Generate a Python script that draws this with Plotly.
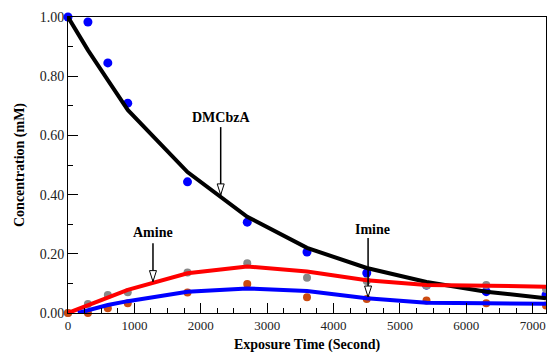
import plotly.graph_objects as go

# Data
t_data = [0, 300, 600, 900, 1800, 2700, 3600, 4500, 5400, 6300, 7200]
dmcbza_obs = [1.00, 0.983, 0.845, 0.709, 0.443, 0.307, 0.206, 0.135, 0.094, 0.072, 0.061]
amine_obs = [0.00, 0.030, 0.061, 0.070, 0.137, 0.168, 0.119, 0.108, 0.093, 0.095, 0.081]
imine_obs = [0.00, 0.000, 0.016, 0.033, 0.069, 0.098, 0.053, 0.047, 0.042, 0.033, 0.025]

t_model = [0, 300, 600, 900, 1800, 2700, 3600, 4500, 5400, 6300, 7200]
dmcbza_fit = [1.00, 0.888, 0.787, 0.686, 0.476, 0.325, 0.220, 0.152, 0.105, 0.072, 0.050]
amine_fit = [0.00, 0.027, 0.053, 0.078, 0.134, 0.157, 0.140, 0.111, 0.095, 0.091, 0.089]
t_imine_fit = [150, 300, 600, 900, 1800, 2700, 3600, 4500, 5400, 6300, 7200]
imine_fit = [0.00, 0.010, 0.027, 0.040, 0.072, 0.083, 0.074, 0.050, 0.035, 0.033, 0.031]

# Labels with arrows
labels = ["DMCbzA", "Amine", "Imine"]
label_x = [2300, 1280, 4520]
label_text_x = [2300, 1280, 4580]
label_y = [0.662, 0.272, 0.282]
arrow_tail = [0.628, 0.236, 0.253]
arrow_tip = [0.399, 0.106, 0.054]

font_family = "Liberation Serif, Times New Roman, serif"

fig = go.Figure()
# markers first
fig.add_trace(go.Scatter(x=t_data, y=dmcbza_obs, mode="markers",
                         marker=dict(color="#0000ff", size=9), showlegend=False, cliponaxis=False))
fig.add_trace(go.Scatter(x=t_data, y=amine_obs, mode="markers",
                         marker=dict(color="#888888", size=8), showlegend=False, cliponaxis=False))
fig.add_trace(go.Scatter(x=t_data, y=imine_obs, mode="markers",
                         marker=dict(color="#cc4a10", size=8), showlegend=False, cliponaxis=False))
# model lines
fig.add_trace(go.Scatter(x=t_model, y=dmcbza_fit, mode="lines",
                         line=dict(color="#000000", width=4), showlegend=False))
fig.add_trace(go.Scatter(x=t_model, y=amine_fit, mode="lines",
                         line=dict(color="#ff0000", width=4), showlegend=False))
fig.add_trace(go.Scatter(x=t_imine_fit, y=imine_fit, mode="lines",
                         line=dict(color="#0000ff", width=4), showlegend=False))

for txt, ax_, tx, ly, ty0, ty1 in zip(labels, label_x, label_text_x, label_y, arrow_tail, arrow_tip):
    fig.add_annotation(x=tx, y=ly, text="<b>%s</b>" % txt, showarrow=False,
                       font=dict(family=font_family, size=14, color="black"),
                       xanchor="center", yanchor="middle")
    fig.add_shape(type="line", x0=ax_, x1=ax_, y0=ty0, y1=ty1,
                  line=dict(color="black", width=1.5))
    fig.add_shape(type="path", xref="x", yref="y",
                  xsizemode="pixel", ysizemode="pixel",
                  xanchor=ax_, yanchor=ty1,
                  path="M 0 0 L -3.5 11 L 3.5 11 Z",
                  fillcolor="white", line=dict(color="black", width=1))

fig.update_layout(
    width=547, height=353,
    margin=dict(l=68, r=1, t=17, b=40),
    paper_bgcolor="white", plot_bgcolor="white",
    font=dict(family=font_family, size=13, color="#222222"),
    xaxis=dict(
        range=[0, 7200], tickmode="linear", tick0=0, dtick=1000,
        ticks="inside", ticklen=10, tickwidth=1, tickcolor="black",
        minor=dict(ticks="inside", ticklen=5, dtick=250, tickcolor="black", tickwidth=1),
        showline=True, linecolor="black", linewidth=1, mirror=True,
        showgrid=False, zeroline=False, ticklabeloverflow="allow", automargin=False,
        title=dict(text="<b>Exposure Time (Second)</b>", font=dict(size=14, color="black"), standoff=14),
        tickfont=dict(size=13),
    ),
    yaxis=dict(
        range=[0, 1.0], tickmode="linear", tick0=0, dtick=0.2, tickformat=".2f",
        ticks="inside", ticklen=10, tickwidth=1, tickcolor="black",
        minor=dict(ticks="inside", ticklen=5, dtick=0.1, tickcolor="black", tickwidth=1),
        showline=True, linecolor="black", linewidth=1, mirror=True,
        showgrid=False, zeroline=False, automargin=False,
        title=dict(text="<b>Concentration (mM)</b>", font=dict(size=14, color="black"), standoff=11),
        tickfont=dict(size=14),
    ),
)

fig.write_html("out.html", config={"displayModeBar": False},
               post_script="document.body.style.margin='0';document.body.style.padding='0';")
